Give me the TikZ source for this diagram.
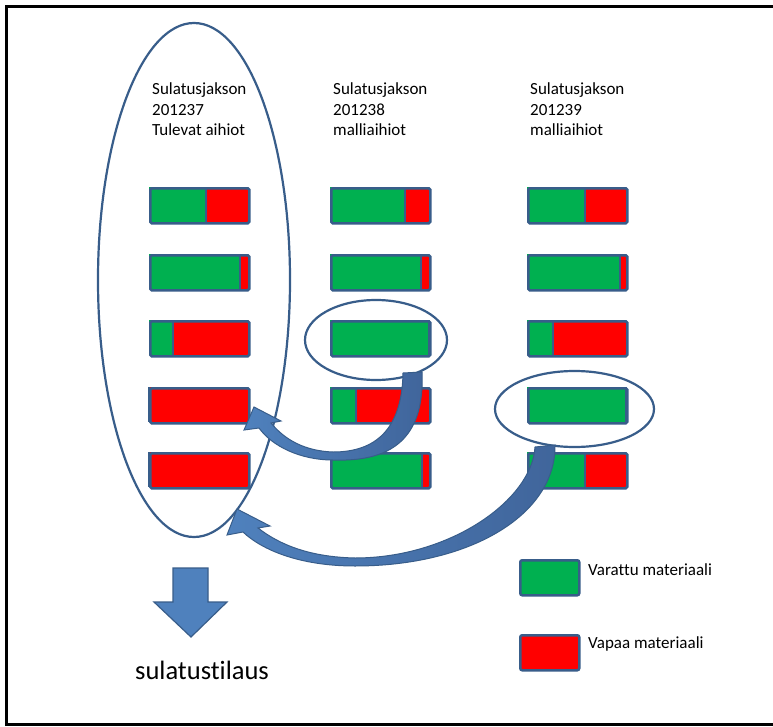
\documentclass[tikz,border=0pt]{standalone}
\usepackage{fontspec}
\setmainfont{Carlito}[Ligatures={NoCommon}]
\usetikzlibrary{shapes.geometric}

\definecolor{vgreen}{HTML}{00B050}
\definecolor{vred}{HTML}{FF0000}
\definecolor{edgeblue}{HTML}{385D8A}
\definecolor{fillblue}{HTML}{4F81BD}
\definecolor{darkblue}{HTML}{40659B}

\tikzset{
  barline/.style={draw=edgeblue, line width=2.5bp},
  barbox/.style={barline, rounded corners=1.5bp, inner sep=0pt,
    minimum width=99bp, minimum height=35bp, anchor=north west},
  legbox/.style={barline, rounded corners=2bp, inner sep=0pt,
    minimum width=59bp, minimum height=35bp, anchor=north west},
  ring/.style={ellipse, draw=edgeblue, line width=2.2bp, inner sep=0pt},
  blockarrow/.style={draw=edgeblue, line width=1bp, left color=fillblue, right color=darkblue},
  headtext/.style={font=\fontsize{17bp}{20.5bp}\selectfont, anchor=base west, inner sep=0pt},
  bigtext/.style={font=\fontsize{26.5bp}{30bp}\selectfont, anchor=base west, inner sep=0pt},
}

% material bar: name, left x, top y, width of the reserved (green) part
\newcommand\matbar[4]{%
  \fill[vgreen] (#2,#3) rectangle ++(#4,35);
  \fill[vred] (#2+#4,#3) rectangle (#2+99,#3+35);
  \draw[barline] (#2+#4,#3) -- ++(0,35);
  \node[barbox] (#1) at (#2,#3) {};
}

\begin{document}
\begin{tikzpicture}[x=1bp, y=-1bp]
\useasboundingbox (0,0) rectangle (773,727);
\clip (0,0) rectangle (773,727);
\fill[white] (0,0) rectangle (773,727);

% outer frame
\draw[black, line width=3bp] (6,7) rectangle (800,724);

% column headings
\node[headtext] (h1a) at (152,95)    {Sulatusjakson};
\node[headtext] (h1b) at (152,115.5) {201237};
\node[headtext] (h1c) at (152,136)   {Tulevat aihiot};
\node[headtext] (h2a) at (333,95)    {Sulatusjakson};
\node[headtext] (h2b) at (333,115.5) {201238};
\node[headtext] (h2c) at (333,136)   {malliaihiot};
\node[headtext] (h3a) at (530,95)    {Sulatusjakson};
\node[headtext] (h3b) at (530,115.5) {201239};
\node[headtext] (h3c) at (530,136)   {malliaihiot};

% bars, column 1
\matbar{a1}{149}{187}{57}
\matbar{a2}{149}{254}{91}
\matbar{a3}{149}{320}{24}
\matbar{a4}{149}{387}{0}
\matbar{a5}{149}{452}{0}
% bars, column 2
\matbar{b1}{330}{187}{75}
\matbar{b2}{330}{254}{91}
\matbar{b3}{330}{320}{99}
\matbar{b4}{330}{387}{26}
\matbar{b5}{330}{452}{92}
% bars, column 3
\matbar{c1}{527}{187}{58}
\matbar{c2}{527}{254}{93}
\matbar{c3}{527}{320}{26}
\matbar{c4}{527}{387}{99}
\matbar{c5}{527}{452}{58}

% groupings
\node[ring, minimum width=192bp, minimum height=514bp] (pool) at (194,280) {};
\node[ring, minimum width=142bp, minimum height=80bp] (pick1) at (376,340) {};
\node[ring, minimum width=159bp, minimum height=76bp] (pick2) at (574.5,409) {};

% curved block arrow from the first picked bar into the pool
\path[blockarrow] (422,372) .. controls (425,440) and (390,462) .. (333,460)
  .. controls (300,460) and (272,446) .. (259,428) -- (244,430) -- (254,407)
  -- (281,421) -- (271,423) .. controls (285,440) and (305,451) .. (333,452)
  .. controls (375,452) and (402,430) .. (403,373) -- cycle;

% curved block arrow from the second picked bar into the pool
\path[blockarrow] (555,445) .. controls (556,515) and (470,566) .. (355,566)
  .. controls (300,566) and (262,550) .. (243,532) -- (227,535) -- (237,509)
  -- (270,526) -- (258,528) .. controls (280,545) and (310,557) .. (355,558)
  .. controls (450,558) and (532,500) .. (535,447) -- cycle;

% downward arrow to the order
\draw[fill=fillblue, draw=edgeblue, line width=1.2bp]
  (173,568) -- (208,568) -- (208,602) -- (227,602) -- (191,637)
  -- (154,602) -- (173,602) -- cycle;
\node[bigtext] (order) at (135,679) {sulatustilaus};

% legend
\node[legbox, fill=vgreen] (lgreen) at (519,559) {};
\node[legbox, fill=vred] (lred) at (519,634) {};
\node[headtext] (tgreen) at (588,575) {Varattu materiaali};
\node[headtext] (tred) at (588,648) {Vapaa materiaali};
\end{tikzpicture}
\end{document}
